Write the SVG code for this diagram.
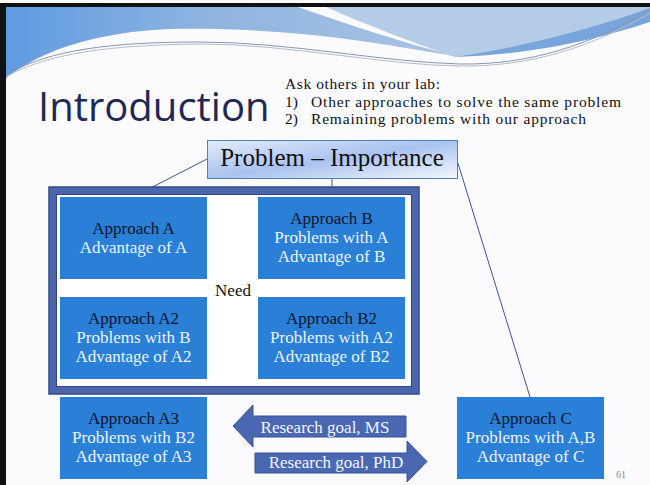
<svg xmlns="http://www.w3.org/2000/svg" width="650" height="485" viewBox="0 0 650 485">
<defs>
<linearGradient id="leftWave" x1="0" y1="0" x2="1" y2="0">
<stop offset="0" stop-color="#5f9be0"/>
<stop offset="0.45" stop-color="#8fb4e0"/>
<stop offset="1" stop-color="#a9c4e3"/>
</linearGradient>
<linearGradient id="probGrad" x1="0" y1="0" x2="1" y2="1">
<stop offset="0" stop-color="#e4ecfa"/>
<stop offset="0.5" stop-color="#a9c2ef"/>
<stop offset="1" stop-color="#f4f7fd"/>
</linearGradient>
<style>
.box{fill:#2a7fd6;}
.t{font-family:"Liberation Serif","DejaVu Serif",serif;font-size:17px;text-anchor:middle;}
.dark{fill:#0a1630;}
.light{fill:#eef3ff;}
.conn{stroke:#3b5597;stroke-width:1;fill:none;}
.arrow{fill:#4a67b1;stroke:#3a5398;stroke-width:1;}
.atext{font-family:"Liberation Serif","DejaVu Serif",serif;font-size:17px;fill:#f4f6ff;text-anchor:middle;}
.note{font-family:"Liberation Serif","DejaVu Serif",serif;font-size:15.5px;fill:#111;}
</style>
</defs>
<rect x="0" y="0" width="650" height="485" fill="#fbfbfd"/>
<g id="background">
<path d="M6,7 H298 C350,25 400,42 455,56 C380,44 300,27 170,29 C100,32 45,48 6,78 Z" fill="url(#leftWave)"/>
<path d="M326,7 H650 V12 C600,32 530,52 455,57 C410,42 365,24 326,7 Z" fill="#b4cce8"/>
<path d="M455,57 C530,46 600,26 650,8 V22 C600,38 540,54 455,57 Z" fill="#78a6dc"/>
<path d="M7,74 C50,50 110,42 200,42 C290,42 380,62 460,64 C530,65 590,45 650,10" fill="none" stroke="#8797b0" stroke-width="1"/>
<path d="M7,76 C50,53 110,45 200,44 C290,44 380,65 460,66 C530,67 592,47 650,13" fill="none" stroke="#b3bccb" stroke-width="1"/>
<rect x="0" y="3" width="650" height="4" fill="#111"/>
<rect x="0" y="3" width="6" height="482" fill="#111"/>
</g>
<g id="title">
<text x="38" y="121" font-family="'Open Sans','Noto Sans',sans-serif" font-size="40" fill="#1f2856">Introduction</text>
</g>
<g id="notes">
<text class="note" x="285" y="89" textLength="155" lengthAdjust="spacing">Ask others in your lab:</text>
<text class="note" x="285" y="106.5">1)</text>
<text class="note" x="311" y="106.5" textLength="310" lengthAdjust="spacing">Other approaches to solve the same problem</text>
<text class="note" x="285" y="124">2)</text>
<text class="note" x="311" y="124" textLength="275" lengthAdjust="spacing">Remaining problems with our approach</text>
</g>
<g id="connectors">
<line class="conn" x1="207" y1="159" x2="133" y2="197"/>
<line class="conn" x1="332" y1="179" x2="332" y2="197"/>
<line class="conn" x1="457" y1="160" x2="530" y2="397"/>
</g>
<g id="frame">
<rect x="49" y="187" width="370" height="207" fill="#4d65ab" stroke="#34498c" stroke-width="1.5"/>
<rect x="56.5" y="194.5" width="355" height="192" fill="#ffffff" stroke="#2f4585" stroke-width="1"/>
<text x="233" y="296" font-family="'Liberation Serif','DejaVu Serif',serif" font-size="17" fill="#111" text-anchor="middle">Need</text>
</g>
<g id="problem">
<rect x="207.5" y="140.5" width="250" height="38" fill="url(#probGrad)" stroke="#4f7fc0" stroke-width="1"/>
<text x="332" y="166" font-family="'Liberation Serif','DejaVu Serif',serif" font-size="25" fill="#111" text-anchor="middle">Problem – Importance</text>
</g>
<g id="approachA">
<rect class="box" x="60" y="197" width="147" height="82"/>
<text class="t dark" x="133.5" y="234">Approach A</text>
<text class="t light" x="133.5" y="253">Advantage of A</text>
</g>
<g id="approachB">
<rect class="box" x="258" y="197" width="147" height="82"/>
<text class="t dark" x="331.5" y="224">Approach B</text>
<text class="t light" x="331.5" y="243">Problems with A</text>
<text class="t light" x="331.5" y="262">Advantage of B</text>
</g>
<g id="approachA2">
<rect class="box" x="60" y="297" width="147" height="82"/>
<text class="t dark" x="133.5" y="324">Approach A2</text>
<text class="t light" x="133.5" y="343">Problems with B</text>
<text class="t light" x="133.5" y="362">Advantage of A2</text>
</g>
<g id="approachB2">
<rect class="box" x="258" y="297" width="147" height="82"/>
<text class="t dark" x="331.5" y="324">Approach B2</text>
<text class="t light" x="331.5" y="343">Problems with A2</text>
<text class="t light" x="331.5" y="362">Advantage of B2</text>
</g>
<g id="approachA3">
<rect class="box" x="60" y="397" width="147" height="82"/>
<text class="t dark" x="133.5" y="424">Approach A3</text>
<text class="t light" x="133.5" y="443">Problems with B2</text>
<text class="t light" x="133.5" y="462">Advantage of A3</text>
</g>
<g id="approachC">
<rect class="box" x="457" y="397" width="147" height="82"/>
<text class="t dark" x="530.5" y="424">Approach C</text>
<text class="t light" x="530.5" y="443">Problems with A,B</text>
<text class="t light" x="530.5" y="462">Advantage of C</text>
</g>
<g id="arrowMS">
<path class="arrow" d="M233,426 L253,405 V416 H406 V437 H253 V447 Z"/>
<text class="atext" x="325" y="433">Research goal, MS</text>
</g>
<g id="arrowPhD">
<path class="arrow" d="M255,453 H407 V441 L427,461.5 L407,482 V473 H255 Z"/>
<text class="atext" x="336" y="468">Research goal, PhD</text>
</g>
<text x="616" y="478" font-family="'Liberation Serif','DejaVu Serif',serif" font-size="10" fill="#8a8a8a">61</text>
</svg>
